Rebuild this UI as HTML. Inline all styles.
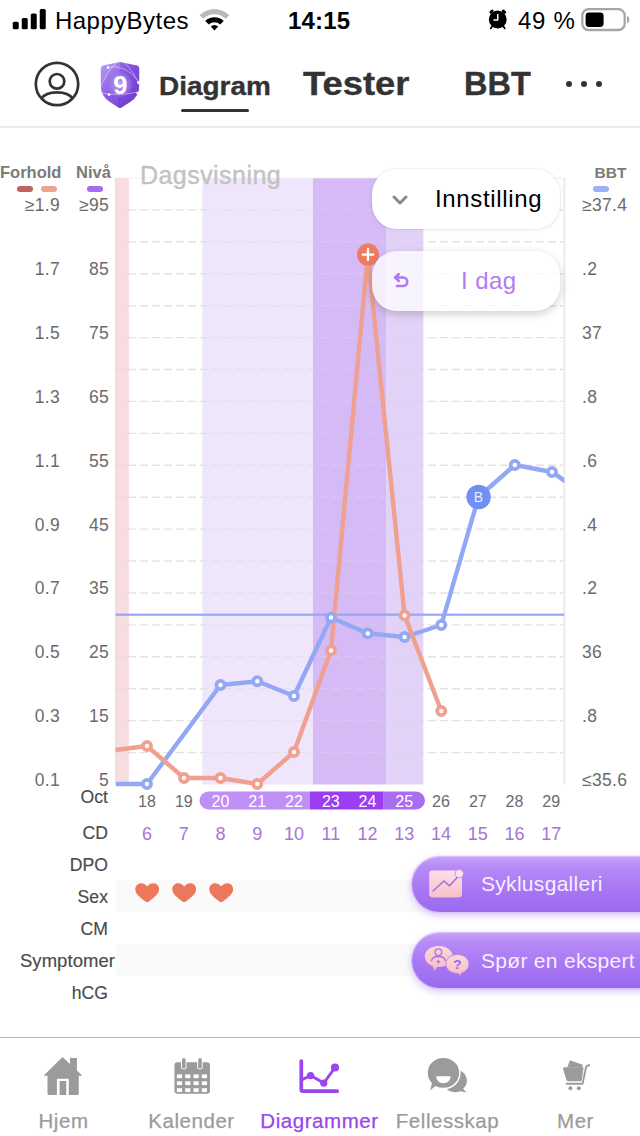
<!DOCTYPE html>
<html>
<head>
<meta charset="utf-8">
<style>
*{margin:0;padding:0;box-sizing:border-box}
html,body{width:640px;height:1136px;overflow:hidden;background:#fff}
body{font-family:"Liberation Sans",sans-serif;position:relative;color:#000}
.abs{position:absolute;white-space:nowrap}
.t{position:absolute;white-space:nowrap;line-height:1}
.c{transform:translateX(-50%)}
.r{transform:translateX(-100%)}
.ax{color:#6b6b6b;font-size:17.5px;letter-spacing:0.3px}
.row{color:#4a4a4a;font-size:18.5px;letter-spacing:0.05px;-webkit-text-stroke:0.15px currentColor}
.cd{color:#a874d6;font-size:18px}
.dt{color:#6b6b6b;font-size:16px}
.dw{color:#fff;font-size:16px}
.tab{color:#9b9b9b;font-size:20.5px;letter-spacing:0.55px;-webkit-text-stroke:0.25px currentColor}
</style>
</head>
<body>

<!-- ===== STATUS BAR ===== -->
<div id="status">
<svg class="abs" style="left:12px;top:9px" width="36" height="22" viewBox="0 0 36 22">
  <rect x="0.75" y="12.75" width="6" height="7.5" rx="1.6" fill="#000"/>
  <rect x="9.75" y="9" width="6" height="11.25" rx="1.6" fill="#000"/>
  <rect x="18.75" y="4.5" width="6" height="15.75" rx="1.6" fill="#000"/>
  <rect x="27.75" y="0" width="6" height="20.25" rx="1.6" fill="#000"/>
</svg>
<div class="t" style="left:55px;top:9px;font-size:24px;letter-spacing:0.45px">HappyBytes</div>
<svg class="abs" style="left:198px;top:7px" width="33" height="24.2" viewBox="0 0 30 22">
  <path d="M1.5 7.5 A19 19 0 0 1 28.5 7.5 L25.3 10.8 A14.5 14.5 0 0 0 4.7 10.8 Z" fill="#b9b9b9"/>
  <path d="M6.6 12.7 A12 12 0 0 1 23.4 12.7 L20.2 16 A7.4 7.4 0 0 0 9.8 16 Z" fill="#000"/>
  <path d="M11.6 17.8 A4.8 4.8 0 0 1 18.4 17.8 L15 21.3 Z" fill="#000"/>
</svg>
<div class="t" style="left:288px;top:9px;font-size:24px;font-weight:bold;letter-spacing:0.2px">14:15</div>
<svg class="abs" style="left:487px;top:8px" width="22" height="24" viewBox="0 0 22 24">
  <circle cx="10.75" cy="11.5" r="8.9" fill="#000"/>
  <ellipse cx="4.5" cy="3.6" rx="2.5" ry="1.45" transform="rotate(-40 4.5 3.6)" fill="#000"/>
  <ellipse cx="17" cy="3.6" rx="2.5" ry="1.45" transform="rotate(40 17 3.6)" fill="#000"/>
  <path d="M5.2 18.4 L3.8 20.2" stroke="#000" stroke-width="1.8" stroke-linecap="round"/>
  <path d="M16.3 18.4 L17.7 20.2" stroke="#000" stroke-width="1.8" stroke-linecap="round"/>
  <path d="M10.75 6.6 V12 H7" stroke="#fff" stroke-width="1.5" fill="none" stroke-linecap="round" stroke-linejoin="round"/>
</svg>
<div class="t" style="left:518px;top:9px;font-size:24px;letter-spacing:0.7px">49 %</div>
<svg class="abs" style="left:581px;top:8px" width="50" height="24" viewBox="0 0 50 24">
  <rect x="1.3" y="1.2" width="42.4" height="20.8" rx="6.3" fill="none" stroke="#a6a6a6" stroke-width="2.3"/>
  <rect x="4.6" y="4.4" width="18" height="14.6" rx="3.4" fill="#000"/>
  <path d="M46 7.7 Q48.4 8.6 48.4 11.6 Q48.4 14.6 46 15.5 Z" fill="#a6a6a6"/>
</svg>
</div>

<!-- ===== NAV HEADER ===== -->
<div id="nav">
<svg class="abs" style="left:32.5px;top:59.8px" width="48" height="48" viewBox="0 0 48 48">
  <circle cx="24" cy="24" r="21.2" fill="none" stroke="#333" stroke-width="2.7"/>
  <circle cx="24" cy="21.3" r="7.3" fill="none" stroke="#333" stroke-width="2.7"/>
  <path d="M8.4 38.6 C11 34.5 17 32.4 24 32.4 C31 32.4 37 34.5 39.6 38.6" fill="none" stroke="#333" stroke-width="2.7"/>
</svg>
<svg class="abs" style="left:96px;top:60px" width="48" height="50" viewBox="0 0 48 50">
  <defs>
    <linearGradient id="sh" x1="0" y1="0" x2="0.9" y2="1">
      <stop offset="0" stop-color="#bda2f5"/><stop offset="0.5" stop-color="#8a59e4"/><stop offset="1" stop-color="#7340d2"/>
    </linearGradient>
    <radialGradient id="gl" cx="0.5" cy="0.5" r="0.5">
      <stop offset="0" stop-color="#c9b0f7" stop-opacity="0.95"/><stop offset="0.65" stop-color="#a884ee" stop-opacity="0.55"/><stop offset="1" stop-color="#8a55e0" stop-opacity="0"/>
    </radialGradient>
  </defs>
  <path d="M24 2 L41 5.6 Q43.2 6.2 43.2 8.6 V26 Q43.2 36 34.5 41.8 L25.6 47.6 Q24 48.6 22.4 47.6 L13.5 41.8 Q4.8 36 4.8 26 V8.6 Q4.8 6.2 7 5.6 Z" fill="url(#sh)"/>
  <path d="M24 2 L41 5.6 Q43.2 6.2 43.2 8.6 V26 Q43.2 36 34.5 41.8 L25.6 47.6 Q24 48.6 22.4 47.6 Z" fill="#5a27b8" opacity="0.22"/>
  <circle cx="24" cy="24.5" r="15" fill="url(#gl)"/>
  <g fill="none" stroke="#fff" stroke-width="0.8" opacity="0.55">
    <path d="M24.5 -1 Q40 12 45.5 31 Q25 37 3 32.5 Q8 12 24.5 -1 Z"/>
    <path d="M12 7 Q30 4 43 22"/>
  </g>
  <g fill="#fff">
    <circle cx="12" cy="7.6" r="1.3"/><circle cx="42.6" cy="22.6" r="1.5"/><circle cx="13" cy="34.6" r="1.4"/><circle cx="41" cy="33" r="0.9"/>
  </g>
  <text x="24.3" y="33.6" text-anchor="middle" font-family="Liberation Sans" font-weight="bold" font-size="25.5" fill="#fff">9</text>
</svg>
<div class="t" style="left:159px;top:72.5px;font-size:26px;font-weight:bold;color:#333;transform:scaleX(1.075);transform-origin:0 50%;-webkit-text-stroke:0.35px #333">Diagram</div>
<div class="abs" style="left:181px;top:108.6px;width:68px;height:3.6px;border-radius:2px;background:#333"></div>
<div class="t" style="left:302.7px;top:66px;font-size:34px;font-weight:bold;color:#333;transform:scaleX(1.068);transform-origin:0 50%;-webkit-text-stroke:0.4px #333">Tester</div>
<div class="t" style="left:463.5px;top:66px;font-size:34px;font-weight:bold;color:#333;transform:scaleX(0.955);transform-origin:0 50%;-webkit-text-stroke:0.4px #333">BBT</div>
<div class="abs" style="left:566px;top:80.5px;width:6.2px;height:6.2px;border-radius:50%;background:#333"></div>
<div class="abs" style="left:581px;top:80.5px;width:6.2px;height:6.2px;border-radius:50%;background:#333"></div>
<div class="abs" style="left:596px;top:80.5px;width:6.2px;height:6.2px;border-radius:50%;background:#333"></div>
<div class="abs" style="left:0;top:126px;width:640px;height:2px;background:#ebebeb"></div>
</div>

<!-- CHART -->
<div id="chart">
<!-- legends -->
<div class="t" style="left:0px;top:164px;font-size:16.5px;font-weight:bold;color:#7a7a7a">Forhold</div>
<div class="abs" style="left:17px;top:186px;width:16px;height:6px;border-radius:3px;background:#c0625f"></div>
<div class="abs" style="left:41px;top:186px;width:16px;height:6px;border-radius:3px;background:#f0a291"></div>
<div class="t" style="left:76px;top:164px;font-size:16.5px;font-weight:bold;color:#7a7a7a">Nivå</div>
<div class="abs" style="left:87px;top:186px;width:16px;height:6px;border-radius:3px;background:#a56bf5"></div>
<div class="t" style="left:594.5px;top:164.5px;font-size:15.5px;font-weight:bold;color:#7a7a7a">BBT</div>
<div class="abs" style="left:593px;top:186px;width:16px;height:6px;border-radius:3px;background:#9bb0f5"></div>

<svg class="abs" style="left:0;top:0" width="640" height="830" viewBox="0 0 640 830">
  <!-- grid -->
  <g stroke="#e3e3e3" stroke-width="1.4" stroke-dasharray="8.25 3.75">
    <path d="M115.75 209.9 H563.3"/>
    <path d="M115.75 241.8 H563.3"/>
    <path d="M115.75 273.8 H563.3"/>
    <path d="M115.75 305.7 H563.3"/>
    <path d="M115.75 337.6 H563.3"/>
    <path d="M115.75 369.5 H563.3"/>
    <path d="M115.75 401.4 H563.3"/>
    <path d="M115.75 433.4 H563.3"/>
    <path d="M115.75 465.3 H563.3"/>
    <path d="M115.75 497.2 H563.3"/>
    <path d="M115.75 529.1 H563.3"/>
    <path d="M115.75 561.0 H563.3"/>
    <path d="M115.75 593.0 H563.3"/>
    <path d="M115.75 624.9 H563.3"/>
    <path d="M115.75 656.8 H563.3"/>
    <path d="M115.75 688.7 H563.3"/>
    <path d="M115.75 720.6 H563.3"/>
    <path d="M115.75 752.6 H563.3"/>
  </g>
  <!-- bands -->
  <rect x="115.7" y="178" width="13.2" height="606.5" fill="rgba(246,214,221,0.85)"/>
  <rect x="202.3" y="178" width="110.7" height="606.5" fill="rgba(236,226,251,0.85)"/>
  <rect x="313" y="178" width="73.3" height="606.5" fill="rgba(206,174,244,0.85)"/>
  <rect x="386.3" y="178" width="37" height="606.5" fill="rgba(222,202,247,0.85)"/>
  <!-- grid overlay in bands -->
  <clipPath id="bc"><rect x="115.7" y="178" width="13.2" height="607"/><rect x="202.3" y="178" width="221" height="607"/></clipPath>
  <g clip-path="url(#bc)" stroke="#e1dceb" stroke-opacity="0.45" stroke-width="1.4" stroke-dasharray="8.25 3.75">
    <path d="M115.75 209.9 H563.3"/>
    <path d="M115.75 241.8 H563.3"/>
    <path d="M115.75 273.8 H563.3"/>
    <path d="M115.75 305.7 H563.3"/>
    <path d="M115.75 337.6 H563.3"/>
    <path d="M115.75 369.5 H563.3"/>
    <path d="M115.75 401.4 H563.3"/>
    <path d="M115.75 433.4 H563.3"/>
    <path d="M115.75 465.3 H563.3"/>
    <path d="M115.75 497.2 H563.3"/>
    <path d="M115.75 529.1 H563.3"/>
    <path d="M115.75 561.0 H563.3"/>
    <path d="M115.75 593.0 H563.3"/>
    <path d="M115.75 624.9 H563.3"/>
    <path d="M115.75 656.8 H563.3"/>
    <path d="M115.75 688.7 H563.3"/>
    <path d="M115.75 720.6 H563.3"/>
    <path d="M115.75 752.6 H563.3"/>
  </g>
  <!-- top border / right axis -->
  <rect x="115.7" y="177.5" width="449.5" height="1" fill="#ececec" opacity="0.8"/>
  <rect x="563.3" y="178" width="2" height="606.5" fill="#ececec"/>
  <rect x="115" y="178" width="1" height="606.5" fill="#d9d9d9" opacity="0.8"/>
  <clipPath id="pc2"><rect x="115.7" y="170" width="448.6" height="620"/></clipPath>
  <!-- coverline -->
  <rect x="115.7" y="613.6" width="448.6" height="2.2" fill="#93a8f4"/>
  <!-- blue -->
  <polyline fill="none" stroke="#93a8f4" stroke-width="4.4" stroke-linejoin="round" points="115.7,784 147,784 220.5,685 257.3,681.3 294,696 331,617.6 367.8,633.4 404.6,637 441.3,625 478.5,497 514.8,465 552,472 576.6,489" clip-path="url(#pc2)"/>
  <!-- salmon -->
  <polyline fill="none" stroke="#f0a090" stroke-width="4.4" stroke-linejoin="round" points="115.7,750 147,746 184,778 220.5,778 257.3,784 294,752 331,650.4 367.8,255 404.6,615.4 441.3,711"/>
  <circle cx="147" cy="784" r="4.1" fill="#fff" stroke="#93a8f4" stroke-width="3.7"/>
  <circle cx="220.5" cy="685" r="4.1" fill="#fff" stroke="#93a8f4" stroke-width="3.7"/>
  <circle cx="257.3" cy="681.3" r="4.1" fill="#fff" stroke="#93a8f4" stroke-width="3.7"/>
  <circle cx="294" cy="696" r="4.1" fill="#fff" stroke="#93a8f4" stroke-width="3.7"/>
  <circle cx="331" cy="617.6" r="4.1" fill="#fff" stroke="#93a8f4" stroke-width="3.7"/>
  <circle cx="367.8" cy="633.4" r="4.1" fill="#fff" stroke="#93a8f4" stroke-width="3.7"/>
  <circle cx="404.6" cy="637" r="4.1" fill="#fff" stroke="#93a8f4" stroke-width="3.7"/>
  <circle cx="441.3" cy="625" r="4.1" fill="#fff" stroke="#93a8f4" stroke-width="3.7"/>
  <circle cx="514.8" cy="465" r="4.1" fill="#fff" stroke="#93a8f4" stroke-width="3.7"/>
  <circle cx="552" cy="472" r="4.1" fill="#fff" stroke="#93a8f4" stroke-width="3.7"/>
  <circle cx="147" cy="746" r="4.1" fill="#fff" stroke="#f0a090" stroke-width="3.7"/>
  <circle cx="184" cy="778" r="4.1" fill="#fff" stroke="#f0a090" stroke-width="3.7"/>
  <circle cx="220.5" cy="778" r="4.1" fill="#fff" stroke="#f0a090" stroke-width="3.7"/>
  <circle cx="257.3" cy="784" r="4.1" fill="#fff" stroke="#f0a090" stroke-width="3.7"/>
  <circle cx="294" cy="752" r="4.1" fill="#fff" stroke="#f0a090" stroke-width="3.7"/>
  <circle cx="331" cy="650.4" r="4.1" fill="#fff" stroke="#f0a090" stroke-width="3.7"/>
  <circle cx="404.6" cy="615.4" r="4.1" fill="#fff" stroke="#f0a090" stroke-width="3.7"/>
  <circle cx="441.3" cy="711" r="4.1" fill="#fff" stroke="#f0a090" stroke-width="3.7"/>
  <!-- peak -->
  <circle cx="368" cy="254.6" r="11" fill="#ee7b62"/>
  <path d="M362.6 254.6 H373.4 M368 249.2 V260" stroke="#fff" stroke-width="2.3" stroke-linecap="round"/>
  <!-- B marker -->
  <circle cx="478.6" cy="497" r="12.2" fill="#7190f1"/>
  <text x="478.5" y="502" text-anchor="middle" font-family="Liberation Sans" font-size="14" fill="#e9eefd">B</text>
  <!-- date pill -->
  <path d="M208.5 791.5 H310 V809.5 H208.5 A9 9 0 0 1 208.5 791.5 Z" fill="#c08ff6"/>
  <rect x="310" y="791.5" width="73.7" height="18" fill="#9b3df0"/>
  <path d="M383.7 791.5 H416 A9 9 0 0 1 416 809.5 H383.7 Z" fill="#aa6cf3"/>
</svg>
<div class="t ax r" style="left:60px;top:196.5px">≥1.9</div>
<div class="t ax r" style="left:109px;top:196.5px">≥95</div>
<div class="t ax" style="left:582px;top:196.5px">≥37.4</div>
<div class="t ax r" style="left:60px;top:260.5px">1.7</div>
<div class="t ax r" style="left:109px;top:260.5px">85</div>
<div class="t ax" style="left:582px;top:260.5px">.2</div>
<div class="t ax r" style="left:60px;top:324.5px">1.5</div>
<div class="t ax r" style="left:109px;top:324.5px">75</div>
<div class="t ax" style="left:582px;top:324.5px">37</div>
<div class="t ax r" style="left:60px;top:388.5px">1.3</div>
<div class="t ax r" style="left:109px;top:388.5px">65</div>
<div class="t ax" style="left:582px;top:388.5px">.8</div>
<div class="t ax r" style="left:60px;top:452.5px">1.1</div>
<div class="t ax r" style="left:109px;top:452.5px">55</div>
<div class="t ax" style="left:582px;top:452.5px">.6</div>
<div class="t ax r" style="left:60px;top:516.5px">0.9</div>
<div class="t ax r" style="left:109px;top:516.5px">45</div>
<div class="t ax" style="left:582px;top:516.5px">.4</div>
<div class="t ax r" style="left:60px;top:579.5px">0.7</div>
<div class="t ax r" style="left:109px;top:579.5px">35</div>
<div class="t ax" style="left:582px;top:579.5px">.2</div>
<div class="t ax r" style="left:60px;top:643.5px">0.5</div>
<div class="t ax r" style="left:109px;top:643.5px">25</div>
<div class="t ax" style="left:582px;top:643.5px">36</div>
<div class="t ax r" style="left:60px;top:707.5px">0.3</div>
<div class="t ax r" style="left:109px;top:707.5px">15</div>
<div class="t ax" style="left:582px;top:707.5px">.8</div>
<div class="t ax r" style="left:60px;top:771.5px">0.1</div>
<div class="t ax r" style="left:109px;top:771.5px">5</div>
<div class="t ax" style="left:582px;top:771.5px">≤35.6</div>
<div class="t" style="left:140px;top:162.5px;font-size:25px;letter-spacing:0.45px;color:#c2c2c2;-webkit-text-stroke:0.35px #c2c2c2">Dagsvisning</div>
<div class="abs" style="left:372px;top:169px;width:187.5px;height:60px;border-radius:25px;background:#fff;box-shadow:0 0 0 1px rgba(0,0,0,0.035),0 1px 5px rgba(0,0,0,0.07)"></div>
<svg class="abs" style="left:392px;top:194px" width="16" height="12" viewBox="0 0 16 12"><path d="M2 3 L8 9 L14 3" fill="none" stroke="#8a8a8a" stroke-width="2.9" stroke-linecap="round" stroke-linejoin="round"/></svg>
<div class="t" style="left:435px;top:187px;font-size:24px;letter-spacing:0.65px;color:#000">Innstilling</div>
<div class="abs" style="left:372px;top:251px;width:187.5px;height:60px;border-radius:25px;background:rgba(255,255,255,0.76);box-shadow:0 3px 10px rgba(0,0,0,0.2)"></div>
<svg class="abs" style="left:391.7px;top:272px" width="18" height="18" viewBox="0 0 18 18"><path d="M3.5 5.5 H11 A4.2 4.2 0 0 1 11 14 H5" fill="none" stroke="#b277ee" stroke-width="2.5" stroke-linecap="round"/><path d="M6.8 2 L3.2 5.5 L6.8 9" fill="none" stroke="#b277ee" stroke-width="2.5" stroke-linecap="round" stroke-linejoin="round"/></svg>
<div class="t" style="left:461px;top:269px;font-size:24px;letter-spacing:0.4px;color:#b57bee">I dag</div>
<div class="t dt c" style="left:147.0px;top:793.5px">18</div>
<div class="t cd c" style="left:147.0px;top:824.6px">6</div>
<div class="t dt c" style="left:183.8px;top:793.5px">19</div>
<div class="t cd c" style="left:183.8px;top:824.6px">7</div>
<div class="t dw c" style="left:220.5px;top:793.5px">20</div>
<div class="t cd c" style="left:220.5px;top:824.6px">8</div>
<div class="t dw c" style="left:257.2px;top:793.5px">21</div>
<div class="t cd c" style="left:257.2px;top:824.6px">9</div>
<div class="t dw c" style="left:294.0px;top:793.5px">22</div>
<div class="t cd c" style="left:294.0px;top:824.6px">10</div>
<div class="t dw c" style="left:330.8px;top:793.5px">23</div>
<div class="t cd c" style="left:330.8px;top:824.6px">11</div>
<div class="t dw c" style="left:367.5px;top:793.5px">24</div>
<div class="t cd c" style="left:367.5px;top:824.6px">12</div>
<div class="t dw c" style="left:404.2px;top:793.5px">25</div>
<div class="t cd c" style="left:404.2px;top:824.6px">13</div>
<div class="t dt c" style="left:441.0px;top:793.5px">26</div>
<div class="t cd c" style="left:441.0px;top:824.6px">14</div>
<div class="t dt c" style="left:477.8px;top:793.5px">27</div>
<div class="t cd c" style="left:477.8px;top:824.6px">15</div>
<div class="t dt c" style="left:514.5px;top:793.5px">28</div>
<div class="t cd c" style="left:514.5px;top:824.6px">16</div>
<div class="t dt c" style="left:551.2px;top:793.5px">29</div>
<div class="t cd c" style="left:551.2px;top:824.6px">17</div>
</div>


<!-- TABLE -->
<div id="table">
<div class="abs" style="left:116px;top:879.7px;width:524px;height:32.5px;background:#fafafa"></div>
<div class="abs" style="left:116px;top:943.7px;width:524px;height:32.5px;background:#fafafa"></div>
<div class="t row r" style="left:108px;top:788.7px;font-size:17.6px">Oct</div>
<div class="t row r" style="left:108px;top:824.7px;font-size:17.6px">CD</div>
<div class="t row r" style="left:108px;top:856.7px;font-size:17.6px">DPO</div>
<div class="t row r" style="left:108px;top:888.7px;font-size:17.6px">Sex</div>
<div class="t row r" style="left:108px;top:920.7px;font-size:17.6px">CM</div>
<div class="t row r" style="left:115px;top:952px">Symptomer</div>
<div class="t row r" style="left:108px;top:984.7px;font-size:17.6px">hCG</div>
<svg class="abs" style="left:135.1px;top:882.5px" width="24.4" height="19.5" viewBox="0 0 24.4 19.5"><path d="M12.2 19.3 C11.6 19.3 11 18.9 10.2 18.3 C4.5 14 0.3 10.6 0.3 6.2 C0.3 2.8 2.9 0.3 6.2 0.3 C8.7 0.3 10.9 1.6 12.2 3.6 C13.5 1.6 15.7 0.3 18.2 0.3 C21.5 0.3 24.1 2.8 24.1 6.2 C24.1 10.6 19.9 14 14.2 18.3 C13.4 18.9 12.8 19.3 12.2 19.3 Z" fill="#ec775a"/></svg>
<svg class="abs" style="left:171.9px;top:882.5px" width="24.4" height="19.5" viewBox="0 0 24.4 19.5"><path d="M12.2 19.3 C11.6 19.3 11 18.9 10.2 18.3 C4.5 14 0.3 10.6 0.3 6.2 C0.3 2.8 2.9 0.3 6.2 0.3 C8.7 0.3 10.9 1.6 12.2 3.6 C13.5 1.6 15.7 0.3 18.2 0.3 C21.5 0.3 24.1 2.8 24.1 6.2 C24.1 10.6 19.9 14 14.2 18.3 C13.4 18.9 12.8 19.3 12.2 19.3 Z" fill="#ec775a"/></svg>
<svg class="abs" style="left:208.8px;top:882.5px" width="24.4" height="19.5" viewBox="0 0 24.4 19.5"><path d="M12.2 19.3 C11.6 19.3 11 18.9 10.2 18.3 C4.5 14 0.3 10.6 0.3 6.2 C0.3 2.8 2.9 0.3 6.2 0.3 C8.7 0.3 10.9 1.6 12.2 3.6 C13.5 1.6 15.7 0.3 18.2 0.3 C21.5 0.3 24.1 2.8 24.1 6.2 C24.1 10.6 19.9 14 14.2 18.3 C13.4 18.9 12.8 19.3 12.2 19.3 Z" fill="#ec775a"/></svg>
<div class="abs" style="left:411.5px;top:856.5px;width:260px;height:55px;border-radius:27.5px;background:linear-gradient(180deg,#c6a1f9 0%,#b68af6 18%,#a877f3 58%,#9b69ef 100%);box-shadow:0 0 0 1.2px rgba(214,192,251,0.9),0 3px 8px rgba(150,100,240,0.42)"></div>
<svg class="abs" style="left:426px;top:864px" width="42" height="38" viewBox="0 0 42 38">
  <defs><linearGradient id="pk" x1="0" y1="0" x2="0" y2="1"><stop offset="0" stop-color="#fde0e6"/><stop offset="1" stop-color="#f9bfc9"/></linearGradient></defs>
  <rect x="3.4" y="7.4" width="32.6" height="27" rx="3.4" fill="#8e5be0" opacity="0.25"/>
  <rect x="3.2" y="6.4" width="32.8" height="27" rx="3.4" fill="url(#pk)"/>
  <path d="M7 27 L18 17 L23.5 21.8 L33 11.5" fill="none" stroke="#a06fe6" stroke-width="1.6" stroke-linecap="round" stroke-linejoin="round"/>
  <circle cx="33.3" cy="9.6" r="4.2" fill="#fde3e8" stroke="#b68af3" stroke-width="0.9"/>
</svg>
<div class="t" style="left:481px;top:873px;font-size:21px;letter-spacing:0.3px;color:#f6efff">Syklusgalleri</div>
<div class="abs" style="left:411.5px;top:933px;width:260px;height:55px;border-radius:27.5px;background:linear-gradient(180deg,#c6a1f9 0%,#b68af6 18%,#a877f3 58%,#9b69ef 100%);box-shadow:0 0 0 1.2px rgba(214,192,251,0.9),0 3px 8px rgba(150,100,240,0.42)"></div>
<svg class="abs" style="left:423px;top:943px" width="50" height="36" viewBox="0 0 50 36">
  <defs><linearGradient id="bb" x1="0" y1="0" x2="0" y2="1"><stop offset="0" stop-color="#fcd9d9"/><stop offset="1" stop-color="#f6bcc4"/></linearGradient></defs>
  <path d="M15.8 2.9 C23.6 2.9 29.8 7.4 29.8 13.4 C29.8 19.4 23.6 23.9 15.8 23.9 C15.2 23.9 14.7 23.9 14.1 23.8 L11.6 27.7 L9.6 22.8 C4.9 21.2 1.8 17.6 1.8 13.4 C1.8 7.4 8 2.9 15.8 2.9 Z" fill="url(#bb)"/>
  <circle cx="15.4" cy="9.2" r="3.3" fill="none" stroke="#a873e6" stroke-width="1.3"/>
  <path d="M8.6 17.6 C9 14.2 12 13.5 15.4 13.5 C18.8 13.5 21.8 14.2 22.2 17.6" fill="none" stroke="#a873e6" stroke-width="1.3" stroke-linecap="round"/>
  <path d="M13.6 18.7 H17.2 M15.4 16.9 V20.5" stroke="#a873e6" stroke-width="1.2"/>
  <path d="M34.4 11.6 C40.8 11.6 46 15.6 46 21 C46 25.4 42.6 28.9 38.4 30 L37 33 L35.2 30.4 C34.9 30.4 34.7 30.4 34.4 30.4 C28 30.4 22.8 26.4 22.8 21 C22.8 15.6 28 11.6 34.4 11.6 Z" fill="url(#bb)" stroke="#b183ef" stroke-width="0.9"/>
  <text x="34.4" y="26.4" text-anchor="middle" font-family="Liberation Sans" font-weight="bold" font-size="13.5" fill="#9a63e8">?</text>
</svg>
<div class="t" style="left:481px;top:949.5px;font-size:21px;letter-spacing:0.3px;color:#f6efff">Spør en ekspert</div>
</div>


<!-- TAB BAR -->
<div id="tabbar">
<div class="abs" style="left:0;top:1036.5px;width:640px;height:1.5px;background:#b8b8b8"></div>
<svg class="abs" style="left:44px;top:1056px" width="38" height="42" viewBox="0 0 38 42">
  <path d="M18.5 0.9 L26 8 V2.1 H32.9 V14.5 L37.9 19.2 Q38.2 19.8 37.5 19.8 H34.75 V37.5 Q34.75 39 33.25 39 H5 Q3.5 39 3.5 37.5 V19.8 H0.3 Q-0.4 19.8 0 19.2 Z" fill="#9b9b9b"/>
  <path d="M12.9 39 V22.75 H24.75 V39 H22.25 V24.9 H15.6 V39 Z" fill="#fff"/>
</svg>
<div class="t tab c" style="left:63.5px;top:1110.5px">Hjem</div>
<svg class="abs" style="left:173px;top:1056px" width="40" height="40" viewBox="0 0 40 40">
  <rect x="1.4" y="6.2" width="35.6" height="31.6" rx="3.2" fill="#9b9b9b"/>
  <rect x="8" y="1.2" width="5.5" height="12.4" rx="2.75" fill="#fff"/>
  <rect x="24.2" y="1.2" width="5.5" height="12.4" rx="2.75" fill="#fff"/>
  <rect x="9" y="2.1" width="3.6" height="10.6" rx="1.8" fill="#9b9b9b"/>
  <rect x="25.2" y="2.1" width="3.6" height="10.6" rx="1.8" fill="#9b9b9b"/>
  <g fill="#fff">
  <rect x="3.9" y="18.4" width="5.2" height="3.8"/><rect x="12.2" y="18.4" width="5.2" height="3.8"/><rect x="20.5" y="18.4" width="5.2" height="3.8"/><rect x="28.8" y="18.4" width="5.2" height="3.8"/>
  <rect x="3.9" y="25.3" width="5.2" height="3.8"/><rect x="12.2" y="25.3" width="5.2" height="3.8"/><rect x="20.5" y="25.3" width="5.2" height="3.8"/><rect x="28.8" y="25.3" width="5.2" height="3.8"/>
  <rect x="3.9" y="32.2" width="5.2" height="3.8"/><rect x="12.2" y="32.2" width="5.2" height="3.8"/><rect x="20.5" y="32.2" width="5.2" height="3.8"/><rect x="28.8" y="32.2" width="5.2" height="3.8"/>
  </g>
</svg>
<div class="t tab c" style="left:191.5px;top:1110.5px">Kalender</div>
<svg class="abs" style="left:297px;top:1056px" width="46" height="40" viewBox="0 0 46 40">
  <path d="M4.3 5.2 V33.5 Q4.3 35.2 6 35.2 H40.2" fill="none" stroke="#9a45ef" stroke-width="3.7" stroke-linecap="round" stroke-linejoin="round"/>
  <path d="M5.5 23.5 L13.6 19.6 L26.75 27.1 L38 11.5" fill="none" stroke="#9a45ef" stroke-width="2.9" stroke-linejoin="round"/>
  <circle cx="13.6" cy="19.6" r="3.7" fill="#9a45ef"/><circle cx="26.75" cy="27.1" r="3.7" fill="#9a45ef"/><circle cx="38" cy="11.5" r="4.1" fill="#9a45ef"/>
</svg>
<div class="t tab c" style="left:319.5px;top:1110.5px;color:#9a45ef">Diagrammer</div>
<svg class="abs" style="left:425px;top:1056px" width="44" height="40" viewBox="0 0 44 40">
  <path d="M30 13.5 C36.8 13.5 41.9 18.4 41.9 24.6 C41.9 27.9 40.5 30.8 38.2 32.8 L41.3 36.6 L35.2 35.2 C33.6 35.9 31.9 36.2 30 36.2 C23.2 36.2 18 31.2 18 24.6 C18 18.4 23.2 13.5 30 13.5 Z" fill="#9b9b9b"/>
  <path d="M18.4 1.3 C27.6 1.3 34.9 8 34.9 16.9 C34.9 25.8 27.6 32.6 18.4 32.6 C15.6 32.6 13 32 10.7 30.9 L3.9 36.4 L6.2 27.3 C3.6 24.5 2 20.9 2 16.9 C2 8 9.2 1.3 18.4 1.3 Z" fill="#9b9b9b" stroke="#fff" stroke-width="1.5"/>
  <path d="M11.2 20.2 H25.6 C25.6 24.4 22.4 27.2 18.4 27.2 C14.4 27.2 11.2 24.4 11.2 20.2 Z" fill="#fff"/>
</svg>
<div class="t tab c" style="left:447.5px;top:1110.5px">Fellesskap</div>
<svg class="abs" style="left:561px;top:1058px" width="32" height="34" viewBox="0 0 32 34">
  <path d="M8.8 2.2 L21.8 6.8 L21 9.6 H6.3 Z" fill="#9b9b9b"/>
  <path d="M3.6 9.2 H22.6 L20.9 21.8 Q20.7 23.2 19.3 23.2 H7.2 Q5.8 23.2 5.5 21.9 L2.1 11 Q1.6 9.2 3.6 9.2 Z" fill="#9b9b9b"/>
  <path d="M5.6 25.8 H21.6 L24.9 9.6 Q25.4 7.3 28.3 7.3" fill="none" stroke="#9b9b9b" stroke-width="1.9" stroke-linecap="round" stroke-linejoin="round"/>
  <circle cx="9.4" cy="30.2" r="2" fill="#9b9b9b"/><circle cx="17.8" cy="30.2" r="2" fill="#9b9b9b"/>
</svg>
<div class="t tab c" style="left:575.5px;top:1110.5px">Mer</div>
</div>

</body>
</html>
